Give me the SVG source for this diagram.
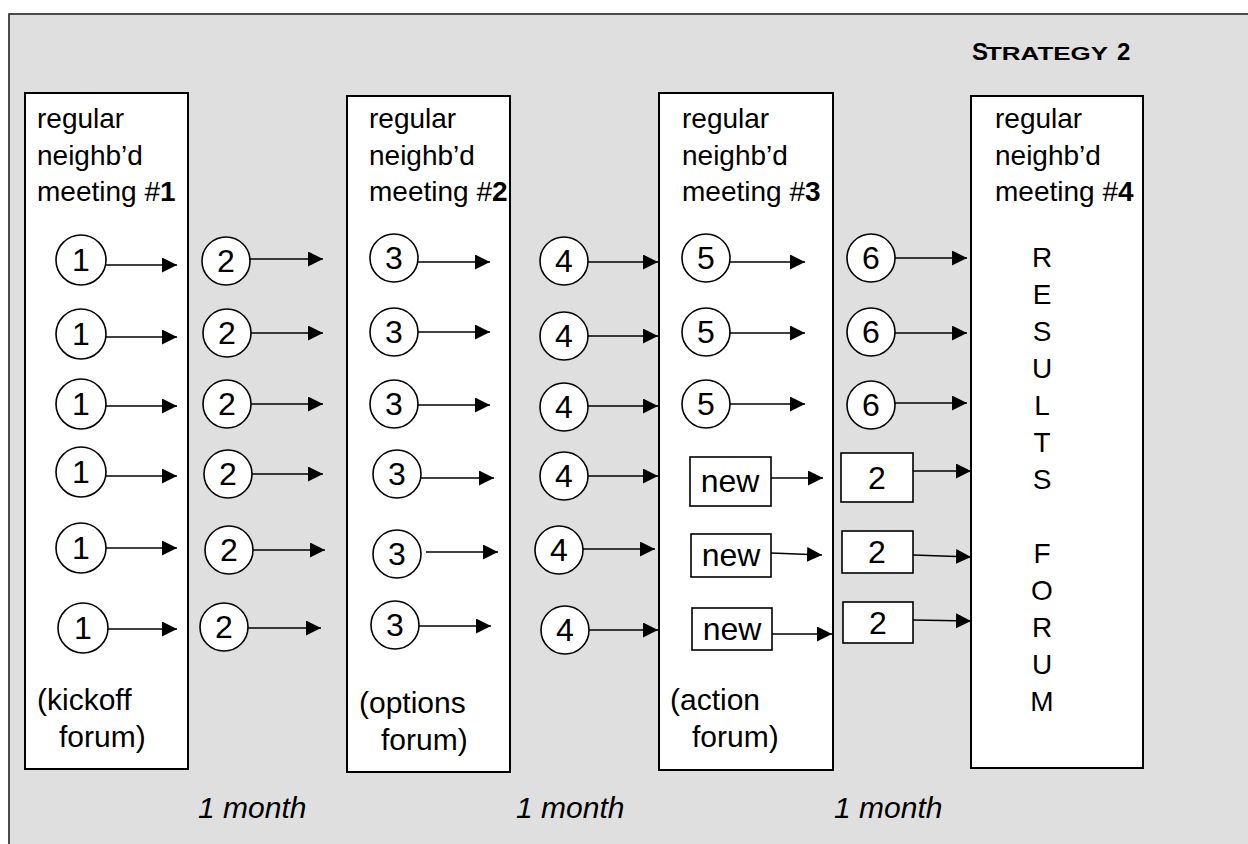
<svg xmlns="http://www.w3.org/2000/svg" width="1248" height="844" viewBox="0 0 1248 844">
  <style>
    text { font-family: "Liberation Sans", Arial, sans-serif; fill: #000; }
    .lbl { font-size: 28px; }
    .foot { font-size: 30px; }
    .num { font-size: 32px; text-anchor: middle; }
    .res { font-size: 28px; text-anchor: middle; }
    .month { font-size: 30px; font-style: italic; }
    .box { fill: #fff; stroke: #000; stroke-width: 2; }
    .node { fill: #fff; stroke: #000; stroke-width: 1.6; }
    .conn line { stroke: #000; stroke-width: 1.6; marker-end: url(#head); }
  </style>
  <defs>
    <marker id="head" markerUnits="userSpaceOnUse" markerWidth="16" markerHeight="16" refX="15" refY="7.5" orient="auto">
      <path d="M0,0 L15,7.5 L0,15 Z" fill="#000"/>
    </marker>
  </defs>

  <!-- page background and frame -->
  <rect x="0" y="0" width="1248" height="844" fill="#fff"/>
  <rect x="9" y="14" width="1260" height="850" fill="#dfdfdf" stroke="#222" stroke-width="1.6"/>

  <!-- title -->
  <g id="title" font-weight="bold">
    <text x="972" y="60" font-size="24" font-weight="bold">S</text>
    <text x="986" y="60" font-size="18" font-weight="bold" textLength="122" lengthAdjust="spacingAndGlyphs">TRATEGY</text>
    <text x="1117" y="60" font-size="24" font-weight="bold">2</text>
  </g>

  <!-- meeting columns -->
  <g id="meeting1">
    <rect class="box" x="25" y="93" width="163" height="676"/>
    <text class="lbl" x="37" y="128">regular</text>
    <text class="lbl" x="37" y="165">neighb’d</text>
    <text class="lbl" x="37" y="201">meeting #<tspan font-weight="bold">1</tspan></text>
    <text class="foot" x="37" y="710">(kickoff</text>
    <text class="foot" x="59" y="747">forum)</text>
  </g>
  <g id="meeting2">
    <rect class="box" x="347" y="96" width="163" height="676"/>
    <text class="lbl" x="369" y="128">regular</text>
    <text class="lbl" x="369" y="165">neighb’d</text>
    <text class="lbl" x="369" y="201">meeting #<tspan font-weight="bold">2</tspan></text>
    <text class="foot" x="359" y="713">(options</text>
    <text class="foot" x="381" y="750">forum)</text>
  </g>
  <g id="meeting3">
    <rect class="box" x="659" y="93" width="174" height="677"/>
    <text class="lbl" x="682" y="128">regular</text>
    <text class="lbl" x="682" y="165">neighb’d</text>
    <text class="lbl" x="682" y="201">meeting #<tspan font-weight="bold">3</tspan></text>
    <text class="foot" x="670" y="710">(action</text>
    <text class="foot" x="692" y="747">forum)</text>
  </g>
  <g id="meeting4">
    <rect class="box" x="971" y="96" width="172" height="672" stroke-width="2.6"/>
    <text class="lbl" x="995" y="128">regular</text>
    <text class="lbl" x="995" y="165">neighb’d</text>
    <text class="lbl" x="995" y="201">meeting #<tspan font-weight="bold">4</tspan></text>
    <g id="results-forum">
      <text class="res" x="1042" y="267">R</text>
      <text class="res" x="1042" y="304">E</text>
      <text class="res" x="1042" y="341">S</text>
      <text class="res" x="1042" y="378">U</text>
      <text class="res" x="1042" y="415">L</text>
      <text class="res" x="1042" y="452">T</text>
      <text class="res" x="1042" y="489">S</text>
      <text class="res" x="1042" y="563">F</text>
      <text class="res" x="1042" y="600">O</text>
      <text class="res" x="1042" y="637">R</text>
      <text class="res" x="1042" y="674">U</text>
      <text class="res" x="1042" y="711">M</text>
    </g>
  </g>

  <!-- step nodes: column 1 -->
  <g id="step1">
    <circle class="node" cx="81" cy="260" r="25"/><text class="num" x="81" y="271">1</text>
    <circle class="node" cx="81" cy="334" r="25"/><text class="num" x="81" y="345">1</text>
    <circle class="node" cx="81" cy="404" r="25"/><text class="num" x="81" y="415">1</text>
    <circle class="node" cx="81" cy="472" r="25"/><text class="num" x="81" y="483">1</text>
    <circle class="node" cx="81" cy="548" r="25"/><text class="num" x="81" y="559">1</text>
    <circle class="node" cx="83" cy="628" r="25"/><text class="num" x="83" y="639">1</text>
  </g>
  <!-- column 2 -->
  <g id="step2">
    <circle class="node" cx="226" cy="261" r="24"/><text class="num" x="226" y="272">2</text>
    <circle class="node" cx="227" cy="333" r="24"/><text class="num" x="227" y="344">2</text>
    <circle class="node" cx="227" cy="404" r="24"/><text class="num" x="227" y="415">2</text>
    <circle class="node" cx="228" cy="474" r="24"/><text class="num" x="228" y="485">2</text>
    <circle class="node" cx="229" cy="550" r="24"/><text class="num" x="229" y="561">2</text>
    <circle class="node" cx="224" cy="627" r="24"/><text class="num" x="224" y="638">2</text>
  </g>
  <!-- column 3 -->
  <g id="step3">
    <circle class="node" cx="394" cy="258" r="24"/><text class="num" x="394" y="269">3</text>
    <circle class="node" cx="394" cy="332" r="24"/><text class="num" x="394" y="343">3</text>
    <circle class="node" cx="394" cy="404" r="24"/><text class="num" x="394" y="415">3</text>
    <circle class="node" cx="397" cy="474" r="24"/><text class="num" x="397" y="485">3</text>
    <circle class="node" cx="397" cy="554" r="24"/><text class="num" x="397" y="565">3</text>
    <circle class="node" cx="395" cy="625" r="24"/><text class="num" x="395" y="636">3</text>
  </g>
  <!-- column 4 -->
  <g id="step4">
    <circle class="node" cx="564" cy="261" r="24"/><text class="num" x="564" y="272">4</text>
    <circle class="node" cx="564" cy="336" r="24"/><text class="num" x="564" y="347">4</text>
    <circle class="node" cx="564" cy="407" r="24"/><text class="num" x="564" y="418">4</text>
    <circle class="node" cx="564" cy="476" r="24"/><text class="num" x="564" y="487">4</text>
    <circle class="node" cx="559" cy="550" r="24"/><text class="num" x="559" y="561">4</text>
    <circle class="node" cx="565" cy="630" r="24"/><text class="num" x="565" y="641">4</text>
  </g>
  <!-- column 5 -->
  <g id="step5">
    <circle class="node" cx="706" cy="258" r="24"/><text class="num" x="706" y="269">5</text>
    <circle class="node" cx="706" cy="332" r="24"/><text class="num" x="706" y="343">5</text>
    <circle class="node" cx="706" cy="404" r="24"/><text class="num" x="706" y="415">5</text>
    <rect class="node" x="690" y="457" width="81" height="49"/><text class="num" x="730" y="492">new</text>
    <rect class="node" x="691" y="534" width="80" height="43"/><text class="num" x="731" y="566">new</text>
    <rect class="node" x="692" y="608" width="80" height="42"/><text class="num" x="732" y="640">new</text>
  </g>
  <!-- column 6 -->
  <g id="step6">
    <circle class="node" cx="871" cy="258" r="24"/><text class="num" x="871" y="269">6</text>
    <circle class="node" cx="871" cy="332" r="24"/><text class="num" x="871" y="343">6</text>
    <circle class="node" cx="871" cy="405" r="24"/><text class="num" x="871" y="416">6</text>
    <rect class="node" x="841" y="453" width="72" height="49"/><text class="num" x="877" y="489">2</text>
    <rect class="node" x="842" y="531" width="71" height="42"/><text class="num" x="877" y="563">2</text>
    <rect class="node" x="843" y="602" width="70" height="41"/><text class="num" x="878" y="634">2</text>
  </g>

  <!-- connectors -->
  <g id="connectors" class="conn">
    <line x1="106" y1="265" x2="177" y2="265"/>
    <line x1="106" y1="337" x2="177" y2="337"/>
    <line x1="106" y1="406" x2="177" y2="406"/>
    <line x1="106" y1="476" x2="177" y2="476"/>
    <line x1="106" y1="548" x2="177" y2="548"/>
    <line x1="108" y1="629" x2="177" y2="629"/>

    <line x1="250" y1="259" x2="323" y2="259"/>
    <line x1="251" y1="333" x2="323" y2="333"/>
    <line x1="251" y1="404" x2="323" y2="404"/>
    <line x1="252" y1="474" x2="323" y2="474"/>
    <line x1="253" y1="550" x2="325" y2="550"/>
    <line x1="248" y1="628" x2="321" y2="628"/>

    <line x1="418" y1="262" x2="490" y2="262"/>
    <line x1="418" y1="332" x2="490" y2="332"/>
    <line x1="418" y1="405" x2="490" y2="405"/>
    <line x1="421" y1="478" x2="494" y2="478"/>
    <line x1="426" y1="552" x2="498" y2="552"/>
    <line x1="419" y1="626" x2="491" y2="626"/>

    <line x1="588" y1="262" x2="658" y2="262"/>
    <line x1="588" y1="336" x2="658" y2="336"/>
    <line x1="588" y1="406" x2="658" y2="406"/>
    <line x1="588" y1="476" x2="658" y2="476"/>
    <line x1="583" y1="549" x2="655" y2="549"/>
    <line x1="589" y1="630" x2="658" y2="630"/>

    <line x1="730" y1="262" x2="805" y2="262"/>
    <line x1="730" y1="333" x2="805" y2="333"/>
    <line x1="730" y1="404" x2="805" y2="404"/>
    <line x1="771" y1="478" x2="823" y2="478"/>
    <line x1="771" y1="553" x2="822" y2="555"/>
    <line x1="772" y1="634" x2="832" y2="634"/>

    <line x1="895" y1="258" x2="967" y2="258"/>
    <line x1="895" y1="333" x2="967" y2="333"/>
    <line x1="895" y1="403" x2="967" y2="403"/>
    <line x1="913" y1="471" x2="971" y2="471"/>
    <line x1="913" y1="555" x2="971" y2="557"/>
    <line x1="913" y1="620" x2="971" y2="621"/>
  </g>

  <!-- time spans -->
  <g id="timeline">
    <text class="month" x="198" y="818">1 month</text>
    <text class="month" x="516" y="818">1 month</text>
    <text class="month" x="834" y="818">1 month</text>
  </g>
</svg>
